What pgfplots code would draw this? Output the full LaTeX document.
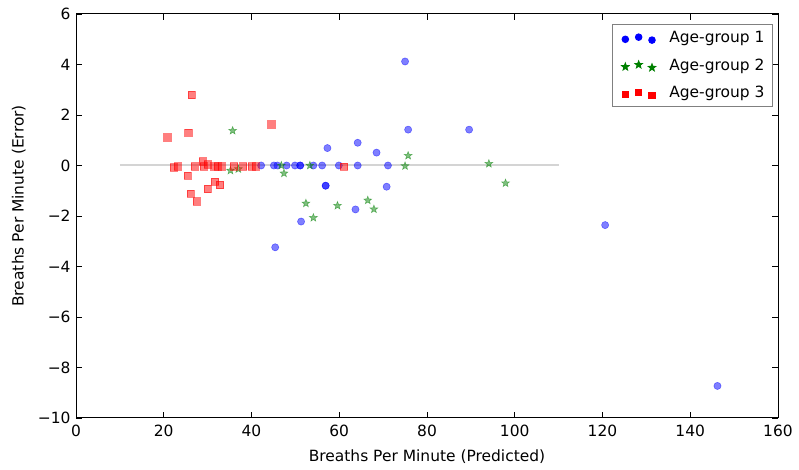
\documentclass[border=0pt]{standalone}
\usepackage{pgfplots}
\pgfplotsset{compat=1.18}
\usepackage{fontspec}
\setmainfont{DejaVu Sans}
\definecolor{mplgreen}{rgb}{0,0.5,0}
\definecolor{zeroline}{rgb}{0.83,0.83,0.83}
\pgfdeclareplotmark{fstar}{%
  \pgfpathmoveto{\pgfpointpolar{90}{\pgfplotmarksize}}%
  \pgfpathlineto{\pgfpointpolar{126}{0.42\pgfplotmarksize}}%
  \pgfpathlineto{\pgfpointpolar{162}{\pgfplotmarksize}}%
  \pgfpathlineto{\pgfpointpolar{198}{0.42\pgfplotmarksize}}%
  \pgfpathlineto{\pgfpointpolar{234}{\pgfplotmarksize}}%
  \pgfpathlineto{\pgfpointpolar{270}{0.42\pgfplotmarksize}}%
  \pgfpathlineto{\pgfpointpolar{306}{\pgfplotmarksize}}%
  \pgfpathlineto{\pgfpointpolar{342}{0.42\pgfplotmarksize}}%
  \pgfpathlineto{\pgfpointpolar{18}{\pgfplotmarksize}}%
  \pgfpathlineto{\pgfpointpolar{54}{0.42\pgfplotmarksize}}%
  \pgfpathclose
  \pgfusepathqfillstroke
}
\begin{document}
\fontsize{11.6pt}{14pt}\selectfont
\begin{tikzpicture}
\path[use as bounding box] (-57pt,-39pt) rectangle (542.25pt,313.5pt);
\begin{axis}[
  scale only axis, width=526.5pt, height=303pt,
  xmin=0, xmax=160, ymin=-10, ymax=6,
  xtick={0,20,...,160}, ytick={-10,-8,...,6},
  xticklabels={0,20,40,60,80,100,120,140,160},
  yticklabels={−10,−8,−6,−4,−2,0,2,4,6},
  tick align=inside, tick pos=both, major tick length=4.5pt,
  tick style={black, line width=0.6pt},
  axis line style={black, line width=0.75pt},
  ticklabel style={font=\fontsize{11.6pt}{14pt}\selectfont},
  xticklabel style={yshift=-1pt},
  xlabel={Breaths Per Minute (Predicted)},
  ylabel={Breaths Per Minute (Error)},
  xlabel style={at={(axis description cs:0.5,0)}, anchor=center, yshift=-29pt},
  ylabel style={at={(axis description cs:-0.0817,0.525)}, anchor=center},
  legend cell align=left,
  legend style={at={(1,1)}, anchor=north east, xshift=-3.75pt, yshift=-7.5pt,
    draw=gray, line width=0.75pt, font=\fontsize{11.6pt}{14pt}\selectfont,
    row sep=8.4pt, inner xsep=3pt, inner ysep=4pt,
    nodes={inner xsep=3pt, inner ysep=1pt}},
  legend image code/.code={%
    \path[fill=none, draw=none] (-7pt,-3pt) rectangle (30pt,3pt);
    \draw[opacity=1, mark size=0.9\pgfplotmarksize] plot coordinates {(0pt,-1pt)(10pt,0.6pt)(20pt,-1.6pt)};},
]
\addplot[zeroline, line width=1.5pt, forget plot] coordinates {(10,0) (110,0)};

\addplot[only marks, mark=*, mark size=2.7pt, color=blue, fill=blue, opacity=0.5] coordinates {
(42.2,0) (45.1,0) (45.9,0) (48.0,0) (49.9,0) (51.1,0) (51.1,0) (54.1,0) (56.1,0)
(59.9,0) (64.2,0) (71.1,0)
(57.3,0.69) (64.2,0.90) (68.5,0.51) (56.9,-0.80) (56.9,-0.80) (70.8,-0.84)
(63.7,-1.74) (51.3,-2.22) (45.4,-3.24) (75.7,1.42) (89.6,1.42) (75.0,4.12)
(120.6,-2.36) (146.2,-8.73)
};
\addlegendentry{Age-group 1}

\addplot[only marks, mark=fstar, mark size=3.1pt, color=mplgreen, fill=mplgreen, opacity=0.5] coordinates {
(35.7,1.38) (35.2,-0.20) (37.0,-0.14) (46.8,0) (47.4,-0.31) (53.3,0)
(52.4,-1.50) (54.1,-2.07) (59.6,-1.59) (66.5,-1.38) (67.9,-1.73)
(75.7,0.39) (75.0,-0.02) (94.1,0.07) (97.9,-0.70)
};
\addlegendentry{Age-group 2}

\addplot[only marks, mark=square*, mark size=2.7pt, color=red, fill=red, opacity=0.5] coordinates {
(26.3,2.79) (20.8,1.12) (25.6,1.31) (44.5,1.63)
(22.2,-0.07) (23.2,-0.03) (25.4,-0.40) (27.0,-0.03) (28.9,0.17) (29.1,-0.03)
(30.0,0.05) (31.5,-0.03) (32.3,-0.03) (33.2,-0.03) (36.0,-0.03) (38.1,-0.03)
(40.0,-0.03) (41.0,-0.03) (61.1,-0.05)
(26.1,-1.12) (27.5,-1.42) (30.0,-0.93) (31.7,-0.64) (32.8,-0.77)
};
\addlegendentry{Age-group 3}
\end{axis}
\end{tikzpicture}
\end{document}
